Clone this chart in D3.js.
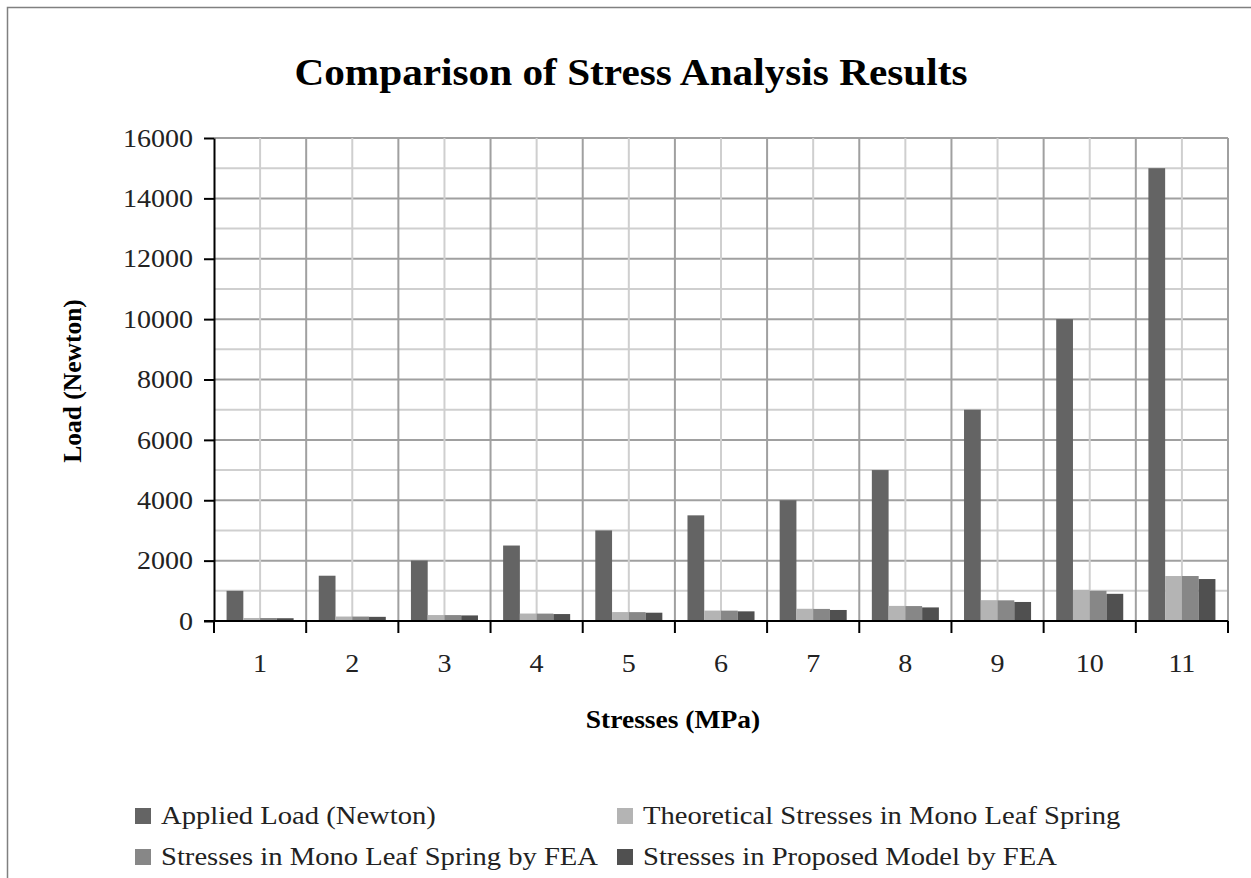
<!DOCTYPE html>
<html>
<head>
<meta charset="utf-8">
<script src="https://cdn.jsdelivr.net/npm/d3@7"></script>
<style>
  body { margin: 0; background: #fff; }
  text { font-family: "Liberation Serif", "DejaVu Serif", serif; }
</style>
</head>
<body>
<script>
// categories on the x axis
const categories = ["1", "2", "3", "4", "5", "6", "7", "8", "9", "10", "11"];

// series names (legend order)
const seriesNames = [
  "Applied Load (Newton)",
  "Theoretical Stresses in Mono Leaf Spring",
  "Stresses in Mono Leaf Spring by FEA",
  "Stresses in Proposed Model by FEA"
];

// values
const appliedLoad = [1000, 1500, 2000, 2500, 3000, 3500, 4000, 5000, 7000, 10000, 15000];
const theoreticalStress = [100, 148, 197, 247, 296, 345, 405, 500, 690, 1030, 1490];
const feaMonoStress = [98, 147, 196, 245, 294, 343, 400, 495, 685, 1000, 1490];
const feaProposedStress = [92, 138, 185, 230, 275, 320, 365, 450, 630, 900, 1390];

const yTicks = [0, 2000, 4000, 6000, 8000, 10000, 12000, 14000, 16000];
const colors = ["#646464", "#b4b4b4", "#878787", "#505050"];

const width = 1251, height = 878;
const plot = { left: 214, right: 1228, top: 138, bottom: 621 };
const STRETCH = 1.1; // the reference text is a bit wider than it is tall

const svg = d3.select("body").append("svg")
  .attr("width", width)
  .attr("height", height);

// widen text horizontally to match the reference
function stretch(sel, k) {
  sel.each(function() {
    const w = this.getComputedTextLength();
    d3.select(this)
      .attr("textLength", w * k)
      .attr("lengthAdjust", "spacingAndGlyphs");
  });
}

// outer chart border
svg.append("rect")
  .attr("x", 7.5).attr("y", 7.5)
  .attr("width", 1300).attr("height", 1000)
  .attr("fill", "none")
  .attr("stroke", "#808080")
  .attr("stroke-width", 1.5);

const x = d3.scaleBand()
  .domain(categories)
  .range([plot.left, plot.right])
  .paddingInner(0)
  .paddingOuter(0);

// gap width ~150% of a bar
const x1 = d3.scaleBand()
  .domain(d3.range(seriesNames.length))
  .range([0, x.bandwidth()])
  .paddingInner(0)
  .paddingOuter(0.75);

const y = d3.scaleLinear()
  .domain([0, 16000])
  .range([plot.bottom, plot.top]);

// horizontal grid lines (minor every 1000, major every 2000)
const grid = svg.append("g");
d3.range(1000, 16001, 1000).forEach(v => {
  const major = v % 2000 === 0;
  grid.append("line")
    .attr("x1", plot.left).attr("x2", plot.right)
    .attr("y1", y(v)).attr("y2", y(v))
    .attr("stroke", major ? "#a0a0a0" : "#cfcfcf")
    .attr("stroke-width", 2);
});

// vertical grid lines: category edges (major) and category centres (minor)
categories.forEach(c => {
  grid.append("line")
    .attr("x1", x(c) + x.bandwidth() / 2).attr("x2", x(c) + x.bandwidth() / 2)
    .attr("y1", plot.top).attr("y2", plot.bottom)
    .attr("stroke", "#cfcfcf")
    .attr("stroke-width", 2);
  grid.append("line")
    .attr("x1", x(c) + x.bandwidth()).attr("x2", x(c) + x.bandwidth())
    .attr("y1", plot.top).attr("y2", plot.bottom)
    .attr("stroke", "#a0a0a0")
    .attr("stroke-width", 2);
});

// bars
const seriesData = [appliedLoad, theoreticalStress, feaMonoStress, feaProposedStress];
seriesData.forEach((vals, s) => {
  svg.append("g")
    .selectAll("rect")
    .data(vals)
    .enter()
    .append("rect")
    .attr("x", (d, i) => x(categories[i]) + x1(s))
    .attr("y", d => y(d))
    .attr("width", x1.bandwidth())
    .attr("height", d => y(0) - y(d))
    .attr("fill", colors[s]);
});

// y axis
const yAxis = svg.append("g")
  .attr("transform", `translate(${plot.left},0)`)
  .call(d3.axisLeft(y).tickValues(yTicks).tickFormat(d3.format("d"))
    .tickSize(10).tickPadding(11).tickSizeOuter(0));
yAxis.select(".domain").attr("stroke", "#000").attr("stroke-width", 2);
yAxis.selectAll(".tick line").attr("stroke", "#000").attr("stroke-width", 2);
yAxis.selectAll("text")
  .attr("font-family", "Liberation Serif")
  .attr("font-size", 25.5)
  .attr("fill", "#222")
  .call(stretch, STRETCH);

// x axis: ticks at category edges
const xAxis = svg.append("g")
  .attr("transform", `translate(0,${plot.bottom})`);
xAxis.append("line")
  .attr("x1", plot.left - 10).attr("x2", plot.right)
  .attr("stroke", "#000").attr("stroke-width", 2);
[plot.left].concat(categories.map(c => x(c) + x.bandwidth())).forEach(px => {
  xAxis.append("line")
    .attr("x1", px).attr("x2", px)
    .attr("y1", 0).attr("y2", 12)
    .attr("stroke", "#000").attr("stroke-width", 2);
});
xAxis.selectAll(".xlabel")
  .data(categories)
  .enter()
  .append("text")
  .attr("x", d => x(d) + x.bandwidth() / 2)
  .attr("y", 51)
  .attr("text-anchor", "middle")
  .attr("font-size", 25.5)
  .attr("fill", "#222")
  .text(d => d)
  .call(stretch, STRETCH);

// title
svg.append("text")
  .attr("x", 631).attr("y", 85)
  .attr("text-anchor", "middle")
  .attr("font-size", 37.5)
  .attr("font-weight", "bold")
  .text("Comparison of Stress Analysis Results")
  .call(stretch, STRETCH);

// axis titles
svg.append("text")
  .attr("x", 673).attr("y", 728)
  .attr("text-anchor", "middle")
  .attr("font-size", 25)
  .attr("font-weight", "bold")
  .text("Stresses (MPa)")
  .call(stretch, STRETCH);

svg.append("text")
  .attr("transform", "translate(81,381) rotate(-90)")
  .attr("text-anchor", "middle")
  .attr("font-size", 25.5)
  .attr("font-weight", "bold")
  .text("Load (Newton)");

// legend (2 x 2)
const legendPos = [
  { x: 135, y: 816 }, { x: 617, y: 816 },
  { x: 135, y: 857 }, { x: 617, y: 857 }
];
seriesNames.forEach((name, i) => {
  const g = svg.append("g").attr("transform", `translate(${legendPos[i].x},${legendPos[i].y})`);
  g.append("rect")
    .attr("x", 0).attr("y", -8)
    .attr("width", 16).attr("height", 16)
    .attr("fill", colors[i]);
  g.append("text")
    .attr("x", 26).attr("y", 8)
    .attr("font-size", 26)
    .attr("fill", "#222")
    .text(name)
    .call(stretch, STRETCH);
});
</script>
</body>
</html>
